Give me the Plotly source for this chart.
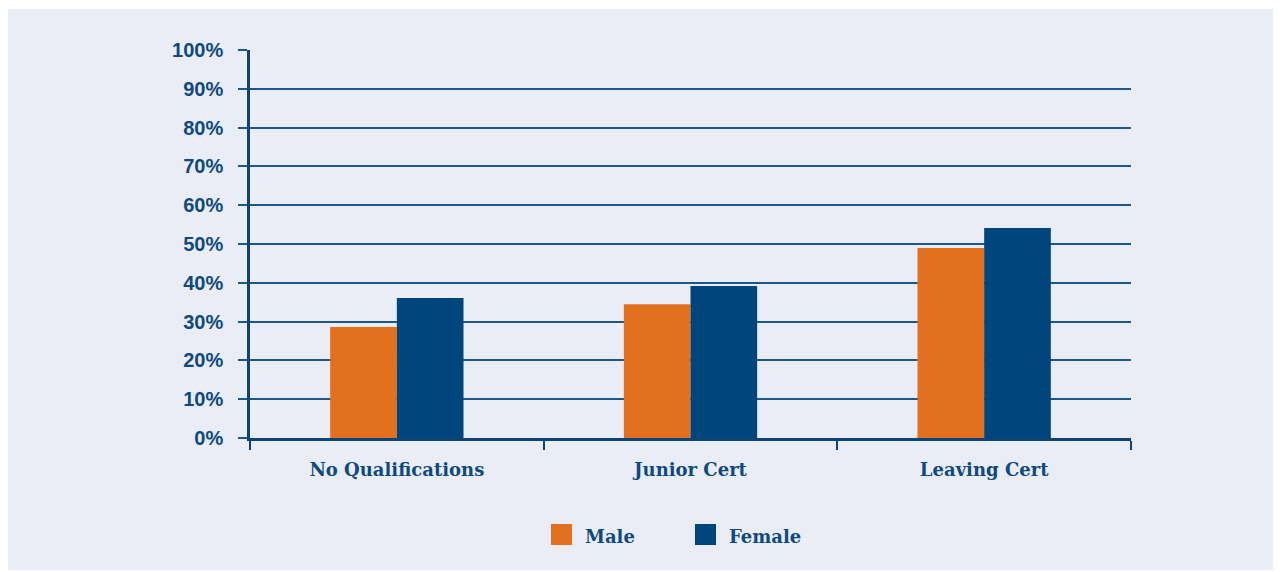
import plotly.graph_objects as go

categories = ["No Qualifications", "Junior Cert", "Leaving Cert"]
series_names = ["Male", "Female"]
male = [28.6, 34.5, 49.0]
female = [36.1, 39.2, 54.1]
y_ticks = [0, 10, 20, 30, 40, 50, 60, 70, 80, 90, 100]
y_tick_labels = [f"{v}%" for v in y_ticks]

ORANGE = "#e3701e"
NAVY = "#00457c"
TEXT = "#0f4a7e"
GRID = "#1d5788"
PANEL = "#eaedf5"

# page body has an 8px margin; figure coordinates = screen - 8
OFF = 8
W, H = 1267, 562
L, R, T, B = 250 - OFF, 1131 - OFF, 50 - OFF, 438 - OFF

def px(x):
    return (x - OFF - L) / (R - L)

def py(y):
    return (B - (y - OFF)) / (B - T)

fig = go.Figure()
fig.add_trace(go.Bar(x=categories, y=male, name=series_names[0], marker_color=ORANGE,
                     marker_line_width=0, showlegend=False))
fig.add_trace(go.Bar(x=categories, y=female, name=series_names[1], marker_color=NAVY,
                     marker_line_width=0, showlegend=False))

shapes = [
    dict(type="rect", xref="paper", yref="paper", x0=px(0), x1=px(1290), y0=py(600), y1=py(9),
         fillcolor=PANEL, line_width=0, layer="below"),
]
annotations = []
# manual legend
legend_items = [(series_names[0], ORANGE, 551), (series_names[1], NAVY, 695)]
for name, col, x0 in legend_items:
    shapes.append(dict(type="rect", xref="paper", yref="paper", x0=px(x0), x1=px(x0 + 21),
                       y0=py(545), y1=py(524), fillcolor=col, line_width=0))
    annotations.append(dict(xref="paper", yref="paper", x=px(x0 + 32), y=py(536), text=name,
                            showarrow=False, xanchor="left", yanchor="middle",
                            font=dict(family="DejaVu Serif", size=18, color=TEXT, weight="bold")))

fig.update_layout(
    width=W, height=H, autosize=False,
    margin=dict(l=L, r=W - R, t=T, b=H - B, pad=0),
    paper_bgcolor="white", plot_bgcolor="rgba(0,0,0,0)",
    barmode="group", bargap=0.546, bargroupgap=0,
    showlegend=False,
    shapes=shapes, annotations=annotations,
    xaxis=dict(
        showgrid=False, showline=True, linecolor="#0c4379", linewidth=3,
        ticks="outside", tickson="boundaries", ticklen=9, tickwidth=2, tickcolor="#0c4379",
        tickfont=dict(family="DejaVu Serif", size=18, color=TEXT, weight="bold"),
        ticklabelstandoff=13,
    ),
    yaxis=dict(
        range=[0, 100], tickvals=y_ticks, ticktext=y_tick_labels,
        showgrid=True, gridcolor=GRID, gridwidth=1.5,
        showline=True, linecolor="#0c4379", linewidth=2.5,
        ticks="outside", ticklen=9, tickwidth=1.5, tickcolor=GRID,
        zeroline=False,
        tickfont=dict(family="Liberation Sans", size=20, color=TEXT, weight="bold"),
        ticklabelstandoff=11,
    ),
)

fig.write_html("out.html")
